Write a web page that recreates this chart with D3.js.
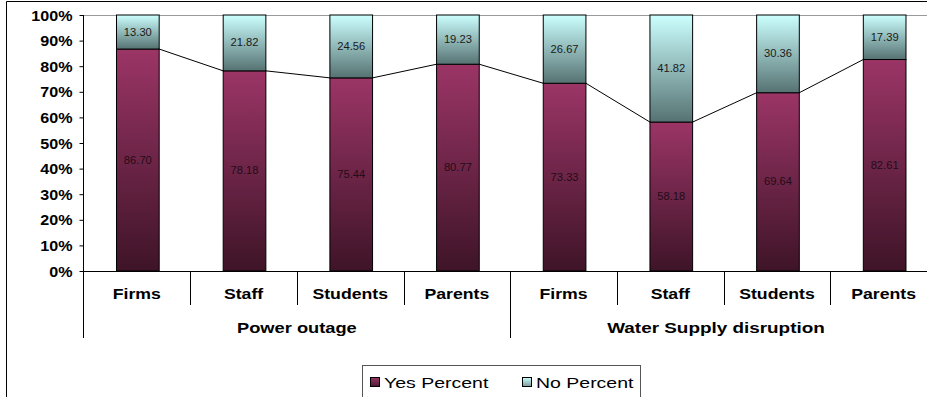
<!DOCTYPE html>
<html>
<head>
<meta charset="utf-8">
<script src="https://cdn.jsdelivr.net/npm/d3@7"></script>
<style>
  html, body { margin: 0; padding: 0; background: #fff; }
  svg { display: block; }
  text { font-family: "Liberation Sans", Arial, sans-serif; }
</style>
</head>
<body>
<svg id="chart" width="927" height="397"></svg>
<script>
// Survey responses by group and disruption type
const categories = ["Firms", "Staff", "Students", "Parents", "Firms", "Staff", "Students", "Parents"];
const groups = ["Power outage", "Water Supply disruption"];
const yesPercent = [86.70, 78.18, 75.44, 80.77, 73.33, 58.18, 69.64, 82.61];
const noPercent  = [13.30, 21.82, 24.56, 19.23, 26.67, 41.82, 30.36, 17.39];
const yTicks = [0, 10, 20, 30, 40, 50, 60, 70, 80, 90, 100];
const legendLabels = ["Yes Percent", "No Percent"];

const svg = d3.select("#chart");
const W = 927, H = 397;
const plotLeft = 83.5, plotRight = 937, plotTop = 15, plotBottom = 271;

// place a text at (x, y) with a horizontal stretch factor
function wideText(parent, str, x, y, sx, attrs) {
  const t = parent.append("text")
    .attr("transform", `translate(${x},${y}) scale(${sx},1)`)
    .text(str);
  Object.entries(attrs || {}).forEach(([k, v]) => t.attr(k, v));
  return t;
}

// gradients
const defs = svg.append("defs");
function vGrad(id, c0, c1) {
  const g = defs.append("linearGradient").attr("id", id).attr("x1", 0).attr("y1", 0).attr("x2", 0).attr("y2", 1);
  g.append("stop").attr("offset", "0%").attr("stop-color", c0);
  g.append("stop").attr("offset", "100%").attr("stop-color", c1);
}
vGrad("gYes", "#9b3566", "#3e1428");
vGrad("gNo", "#ccffff", "#567272");
vGrad("gYesL", "#9b3566", "#4a1830");
vGrad("gNoL", "#ccffff", "#7a9a9a");

// chart area border (top and left visible)
svg.append("line").attr("x1", 6.5).attr("x2", W).attr("y1", 1.5).attr("y2", 1.5).attr("stroke", "#000");
svg.append("line").attr("x1", 6.5).attr("x2", 6.5).attr("y1", 1.5).attr("y2", H).attr("stroke", "#000");

const x = d3.scaleBand().domain(d3.range(categories.length)).range([plotLeft, plotRight]).paddingInner(0.6).paddingOuter(0.3);
const step = x.step();
const y = d3.scaleLinear().domain([0, 100]).range([plotBottom, plotTop]);

// plot area top border
svg.append("line").attr("x1", plotLeft).attr("x2", W).attr("y1", plotTop + 0.5).attr("y2", plotTop + 0.5).attr("stroke", "#9a9a9a");

// y axis
const yAxis = d3.axisLeft(y).tickValues(yTicks).tickSize(4).tickPadding(7).tickFormat(d => d + "%");
const ya = svg.append("g").attr("transform", `translate(${plotLeft},0)`).call(yAxis);
ya.select(".domain").remove();
ya.selectAll(".tick line").attr("stroke", "#000");
ya.selectAll(".tick text")
  .attr("x", null).attr("dy", null)
  .attr("transform", "translate(-11,5) scale(1.15,1)")
  .attr("font-size", 14).attr("font-weight", "bold").attr("fill", "#000")
  .style("font-family", "'Liberation Sans', Arial, sans-serif");
svg.append("line").attr("x1", plotLeft).attr("x2", plotLeft).attr("y1", plotTop).attr("y2", 338).attr("stroke", "#000");

// bars
const bx = i => x(i) + 1;
const bars = svg.append("g");
bars.selectAll("rect.yes").data(yesPercent).join("rect").attr("class", "yes")
  .attr("x", (d, i) => bx(i)).attr("width", x.bandwidth())
  .attr("y", d => y(d)).attr("height", d => y(0) - y(d))
  .attr("fill", "url(#gYes)").attr("stroke", "#000").attr("stroke-width", 1);
bars.selectAll("rect.no").data(noPercent).join("rect").attr("class", "no")
  .attr("x", (d, i) => bx(i)).attr("width", x.bandwidth())
  .attr("y", (d, i) => y(yesPercent[i] + d)).attr("height", (d, i) => y(yesPercent[i]) - y(yesPercent[i] + d))
  .attr("fill", "url(#gNo)").attr("stroke", "#000").attr("stroke-width", 1);

// series lines linking the top of each "yes" segment
const links = d3.range(yesPercent.length - 1).map(i => [i, i + 1]);
svg.append("g").selectAll("line").data(links).join("line")
  .attr("x1", d => bx(d[0]) + x.bandwidth()).attr("y1", d => y(yesPercent[d[0]]))
  .attr("x2", d => bx(d[1])).attr("y2", d => y(yesPercent[d[1]]))
  .attr("stroke", "#000").attr("stroke-width", 1);

// value labels
const labels = svg.append("g").attr("font-size", 10).attr("text-anchor", "middle");
yesPercent.forEach((d, i) => {
  wideText(labels, d.toFixed(2), bx(i) + x.bandwidth() / 2, (y(0) + y(d)) / 2 + 3.5, 1.12, { fill: "#240c18" });
});
noPercent.forEach((d, i) => {
  wideText(labels, d.toFixed(2), bx(i) + x.bandwidth() / 2, (y(yesPercent[i]) + y(yesPercent[i] + d)) / 2 + 3.5, 1.12, { fill: "#1a1a1a" });
});

// x axis baseline
svg.append("line").attr("x1", plotLeft).attr("x2", W).attr("y1", plotBottom + 0.5).attr("y2", plotBottom + 0.5).attr("stroke", "#000");

// category separators and labels
const sepG = svg.append("g");
d3.range(1, categories.length).forEach(i => {
  const sx = Math.round(plotLeft + i * step) + 0.5;
  const long = i % 4 === 0;
  sepG.append("line").attr("x1", sx).attr("x2", sx).attr("y1", plotBottom).attr("y2", long ? 338 : 305).attr("stroke", "#000");
});
const catG = svg.append("g").attr("text-anchor", "middle").attr("font-size", 15.5).attr("font-weight", "bold").attr("fill", "#000");
categories.forEach((c, i) => {
  wideText(catG, c, plotLeft + (i + 0.5) * step, 298.5, 1.14, {});
});
const grpG = svg.append("g").attr("text-anchor", "middle").attr("font-size", 15.5).attr("font-weight", "bold").attr("fill", "#000");
groups.forEach((g, i) => {
  wideText(grpG, g, i === 0 ? plotLeft + 2 * step : 716, 333, i === 0 ? 1.18 : 1.22, {});
});

// legend
const lg = svg.append("g");
lg.append("rect").attr("x", 362.5).attr("y", 365.5).attr("width", 278).attr("height", 40)
  .attr("fill", "#fff").attr("stroke", "#555");
const items = [{ label: legendLabels[0], fill: "url(#gYesL)", x: 370 }, { label: legendLabels[1], fill: "url(#gNoL)", x: 522 }];
items.forEach(it => {
  lg.append("rect").attr("x", it.x + 0.5).attr("y", 377.5).attr("width", 9).attr("height", 9)
    .attr("fill", it.fill).attr("stroke", "#000");
  wideText(lg, it.label, it.x + 14, 388, 1.3, { "font-size": 15, fill: "#000" });
});
</script>
</body>
</html>
